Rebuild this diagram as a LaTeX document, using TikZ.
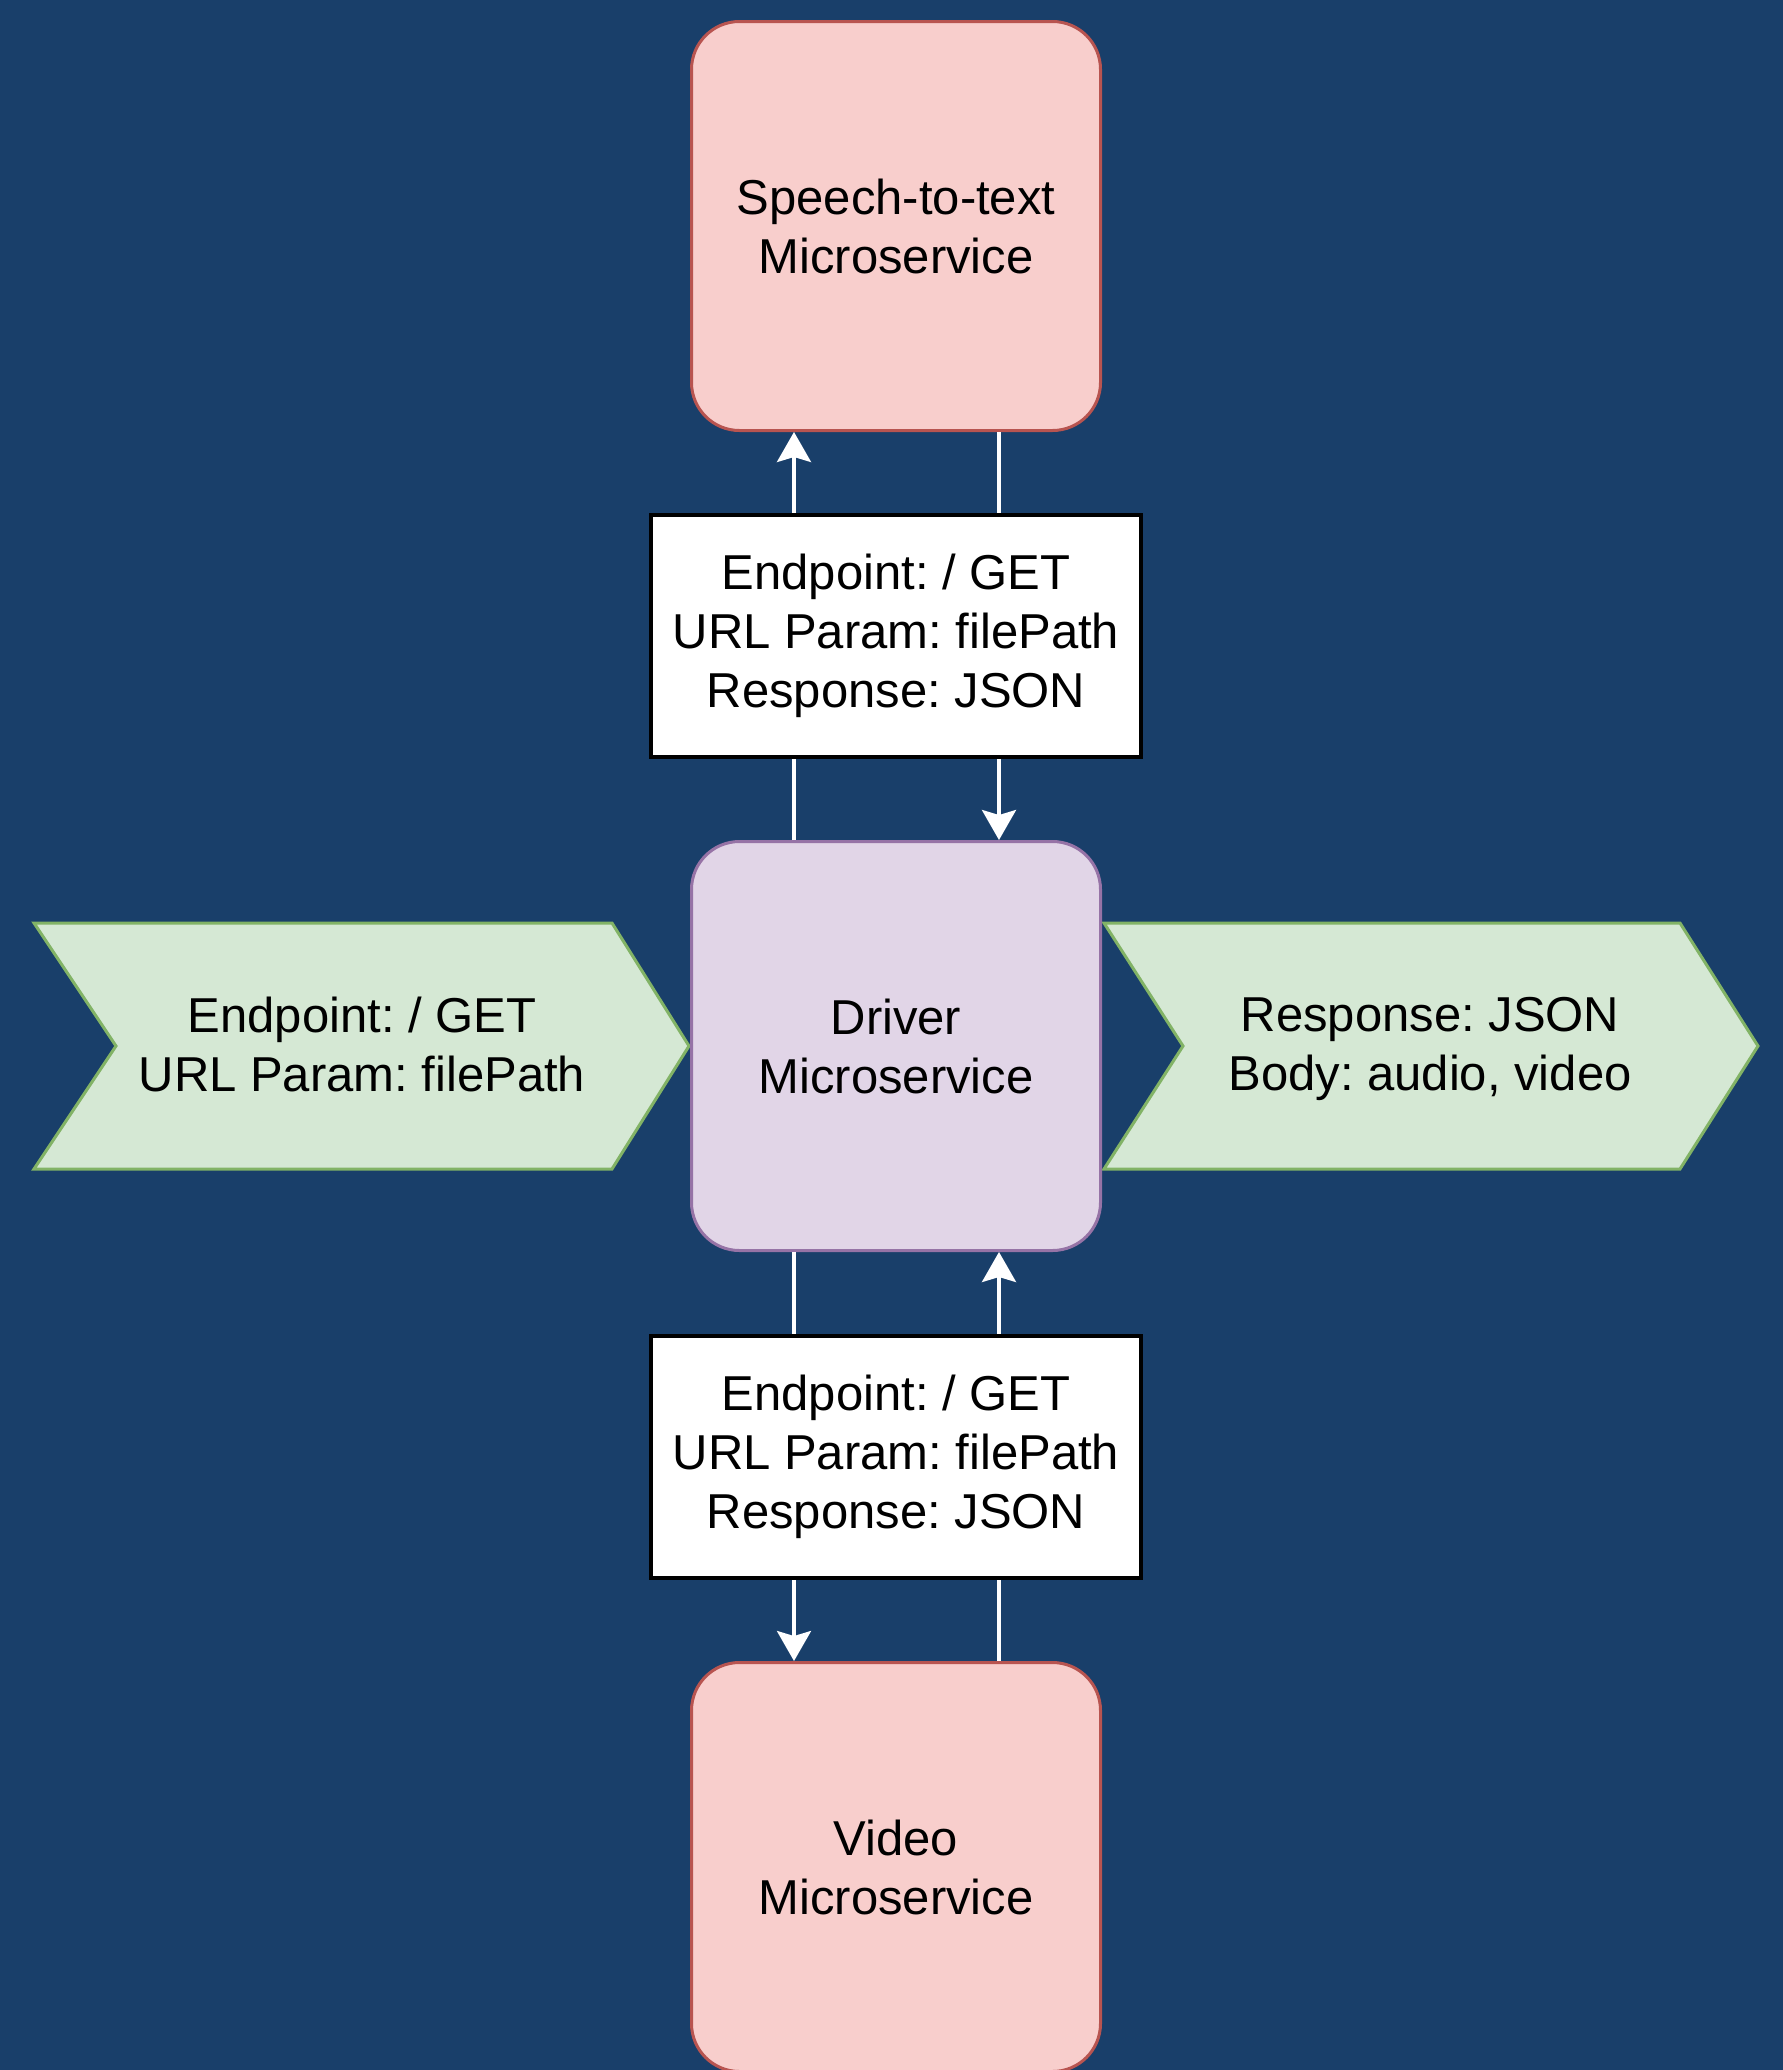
\documentclass[tikz,border=0pt]{standalone}
\usepackage{fontspec}
\setmainfont{Liberation Sans}
\usetikzlibrary{arrows.meta}
\frenchspacing
\definecolor{bg}{HTML}{193F6A}
\definecolor{redfill}{HTML}{F8CECC}
\definecolor{redline}{HTML}{B85450}
\definecolor{purfill}{HTML}{E1D5E7}
\definecolor{purline}{HTML}{9673A6}
\definecolor{grnfill}{HTML}{D5E8D4}
\definecolor{grnline}{HTML}{82B366}
\begin{document}
\begin{tikzpicture}[x=1pt,y=-1pt,
  txt/.style={align=center, font=\fontsize{49}{59}\selectfont, text=black},
  svc/.style={txt, draw=redline, fill=redfill, line width=3pt, rounded corners=48pt,
    minimum width=409pt, minimum height=409pt, inner sep=0pt},
  drvbox/.style={svc, draw=purline, fill=purfill},
  lbl/.style={txt, draw=black, fill=white, line width=4pt, minimum width=490pt,
    minimum height=242pt, inner sep=0pt},
  chev/.style={draw=grnline, fill=grnfill, line width=3pt, line join=miter},
  conn/.style={draw=white, line width=3.5pt, -{Stealth[length=30pt,width=34pt,inset=5pt]}}
]
\fill[bg] (0,0) rectangle (1783,2070);
\useasboundingbox (0,0) rectangle (1783,2070);

% chevrons
\draw[chev] (34,923) -- (612,923) -- (689,1046) -- (612,1169) -- (34,1169) -- (116,1046) -- cycle;
\draw[chev] (1104,923) -- (1680,923) -- (1758,1046) -- (1680,1169) -- (1104,1169) -- (1183,1046) -- cycle;
\node[txt] (inreq) at (362,1044) {Endpoint: / GET\\URL Param: filePath};
\node[txt] (outres) at (1430,1049) {Response: JSON\\Body: audio, video};

% services
\node[svc] (stt) at (896,226) {Speech-to-text\\Microservice};
\node[drvbox] (drv) at (896,1046) {Driver\\Microservice};
\node[svc] (vid) at (896,1867) {Video\\Microservice};

% connectors
\draw[conn] ([xshift=-102pt]drv.north) -- ([xshift=-102pt]stt.south);
\draw[conn] ([xshift=103pt]stt.south) -- ([xshift=103pt]drv.north);
\draw[conn] ([xshift=-102pt]drv.south) -- ([xshift=-102pt]vid.north);
\draw[conn] ([xshift=103pt]vid.north) -- ([xshift=103pt]drv.south);

% labels
\node[lbl] (lbltop) at (896,636) {Endpoint: / GET\\URL Param: filePath\\Response: JSON};
\node[lbl] (lblbot) at (896,1456.5) {Endpoint: / GET\\URL Param: filePath\\Response: JSON};
\end{tikzpicture}
\end{document}
